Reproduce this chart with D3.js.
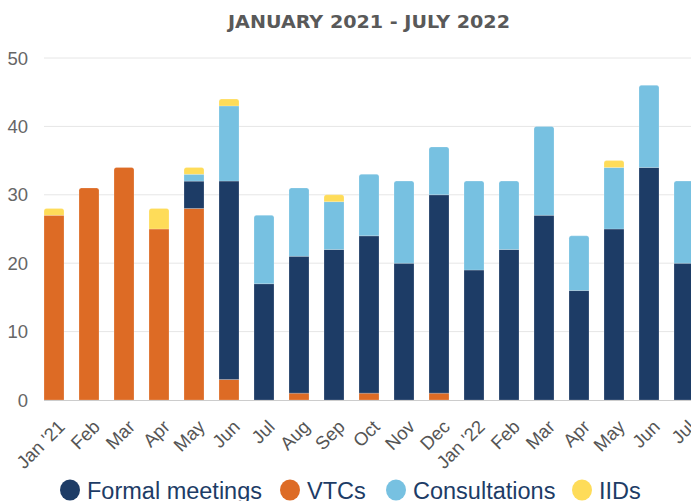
<!DOCTYPE html>
<html><head><meta charset="utf-8">
<script src="https://cdn.jsdelivr.net/npm/d3@7"></script>
<style>body{margin:0;background:#fff;overflow:hidden}svg{display:block}</style>
</head><body>
<svg id="c" width="691" height="501"></svg>
<script>
const categories = ["Jan '21","Feb","Mar","Apr","May","Jun","Jul","Aug","Sep","Oct","Nov","Dec","Jan '22","Feb","Mar","Apr","May","Jun","Jul"];
const vtcs         = [27,31,34,25,28, 3, 0, 1, 0, 1, 0, 1, 0, 0, 0, 0, 0, 0, 0];
const formal       = [ 0, 0, 0, 0, 4,29,17,20,22,23,20,29,19,22,27,16,25,34,20];
const consultations= [ 0, 0, 0, 0, 1,11,10,10, 7, 9,12, 7,13,10,13, 8, 9,12,12];
const iids         = [ 1, 0, 0, 3, 1, 1, 0, 0, 1, 0, 0, 0, 0, 0, 0, 0, 1, 0, 0];
const yTicks = [0,10,20,30,40,50];
const seriesNames = ["VTCs","Formal meetings","Consultations","IIDs"];
const colors = {"Formal meetings":"#1d3c66","VTCs":"#dd6b25","Consultations":"#77c1e1","IIDs":"#fedc59"};
const legendOrder = ["Formal meetings","VTCs","Consultations","IIDs"];

const rows = categories.map((c,i)=>({idx:i,cat:c,"VTCs":vtcs[i],"Formal meetings":formal[i],"Consultations":consultations[i],"IIDs":iids[i]}));
const stack = d3.stack().keys(seriesNames)(rows);

const svg = d3.select("#c");
const x = d3.scaleBand().domain(d3.range(categories.length)).range([36.5, 36.5+19*35]).paddingInner(15/35).paddingOuter(7.5/35);
const y = d3.scaleLinear().domain([0,50]).range([400,58]);

// grid
svg.append("g").selectAll("line").data(yTicks.filter(t=>t>0)).join("line")
  .attr("x1",44).attr("x2",691).attr("y1",d=>y(d)).attr("y2",d=>y(d))
  .attr("stroke","#e6e6e6").attr("stroke-width",1);

// y labels
svg.append("g").selectAll("text").data(yTicks).join("text")
  .attr("x",28).attr("y",d=>y(d)+6.5).attr("text-anchor","end")
  .attr("font-family","Liberation Sans, Arial, sans-serif").attr("font-size",18.5).attr("fill","#666")
  .text(d=>d);

const topKey = rows.map(r=>{let k=null; seriesNames.forEach(s=>{if(r[s]>0)k=s;}); return k;});
const r = 2.5;
function segPath(x0,w,y0,y1,round){
  if(!round) return `M${x0},${y0}H${x0+w}V${y1}H${x0}Z`;
  return `M${x0},${y0}V${y1+r}Q${x0},${y1} ${x0+r},${y1}H${x0+w-r}Q${x0+w},${y1} ${x0+w},${y1+r}V${y0}Z`;
}
stack.forEach(layer=>{
  svg.append("g").selectAll("path").data(layer.filter(d=>d[1]-d[0]>0)).join("path")
    .attr("d",d=>segPath(x(d.data.idx),x.bandwidth(),y(d[0]),y(d[1]),topKey[d.data.idx]===layer.key))
    .attr("fill",colors[layer.key])
    .attr("stroke","rgba(255,255,255,0.35)").attr("stroke-width",0.6);
});

// baseline
svg.append("line").attr("x1",44).attr("x2",691).attr("y1",400.5).attr("y2",400.5).attr("stroke","#ccc").attr("stroke-width",1);

// x labels
svg.append("g").selectAll("text").data(categories).join("text")
  .attr("transform",(d,i)=>`translate(${x(i)+x.bandwidth()/2+12},${428}) rotate(-45)`)
  .attr("text-anchor","end")
  .attr("font-family","Liberation Sans, Arial, sans-serif").attr("font-size",18.5).attr("fill","#555")
  .text(d=>d);

// title
svg.append("text").attr("x",369).attr("y",27.5).attr("text-anchor","middle")
  .attr("font-family","DejaVu Sans, sans-serif").attr("font-weight",700).attr("font-size",17.5).attr("fill","#595959")
  .attr("textLength",282).attr("lengthAdjust","spacingAndGlyphs")
  .text("JANUARY 2021 - JULY 2022");

// legend
const legendX = [70, 290, 396, 582];
const lg = svg.append("g").selectAll("g").data(legendOrder).join("g")
  .attr("transform",(d,i)=>`translate(${legendX[i]},490)`);
lg.append("ellipse").attr("rx",10).attr("ry",10.5).attr("fill",d=>colors[d]);
lg.append("text").attr("x",17).attr("y",8.5)
  .attr("font-family","Liberation Sans, Arial, sans-serif").attr("font-size",23.5).attr("fill","#1d3c66")
  .text(d=>d);
</script>
</body></html>
